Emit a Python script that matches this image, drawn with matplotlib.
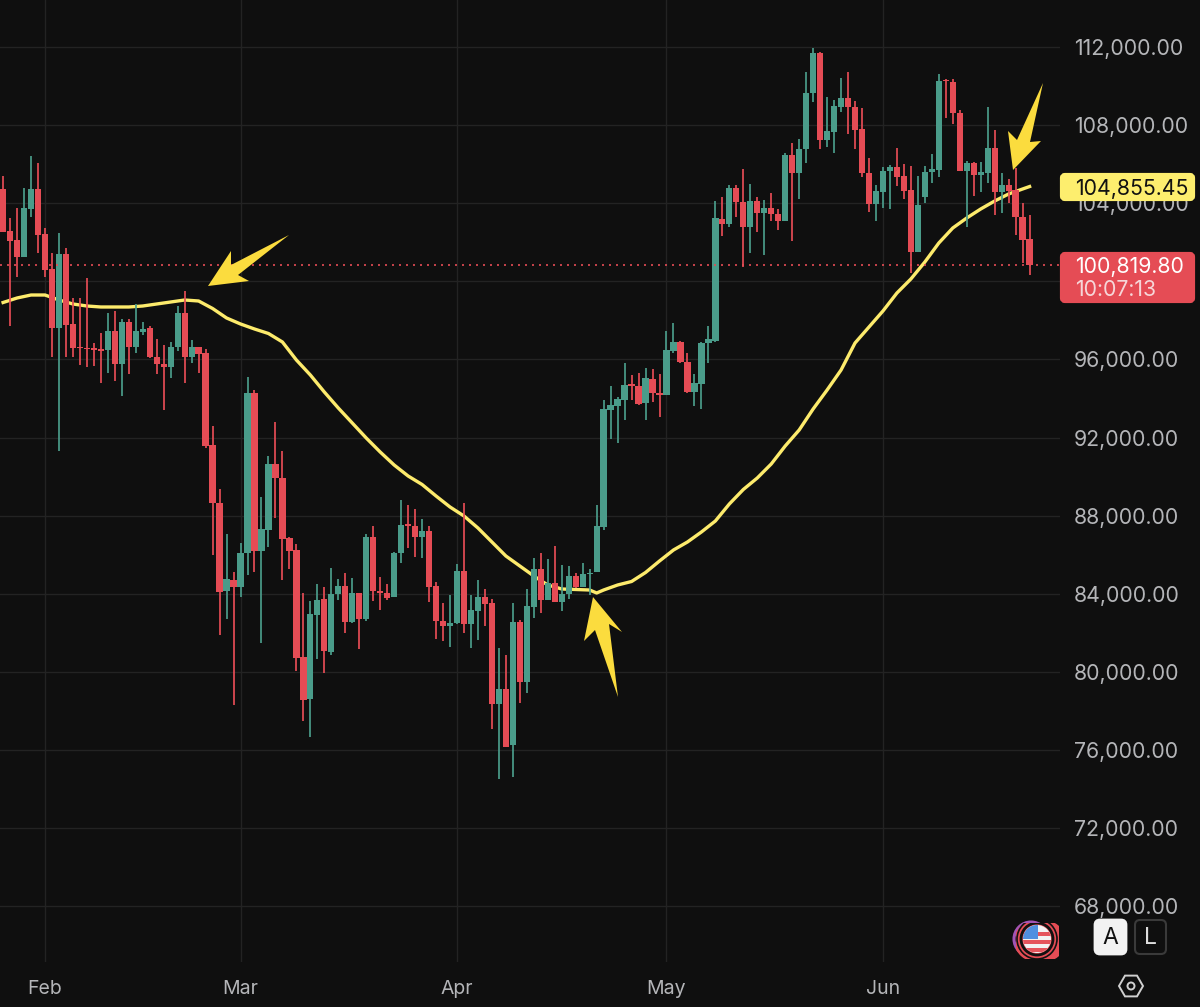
"""Daily BTC candles with a moving average and call-out arrows."""

import matplotlib

matplotlib.use("Agg")
import matplotlib.dates as mdates
import matplotlib.pyplot as plt
import pandas as pd
from matplotlib.patches import Circle, Ellipse, FancyBboxPatch, Polygon, Rectangle, RegularPolygon

opens = [
    104710, 102578, 102117, 101263, 103705, 104712, 102407, 100615, 97593, 101383,
    97798, 96655, 96603, 96569, 96518, 96484, 97457, 95767, 97901, 96621,
    97423, 97593, 96108, 95767, 95596, 96621, 98362, 96143, 96621, 96313,
    91604, 88668, 84161, 84708, 84332, 86073, 94301, 86210, 87268, 90631,
    89948, 86841, 86244, 80748, 78596, 82915, 83717, 81038, 83974, 84400,
    82540, 84025, 82693, 86927, 84161, 84025, 83820, 86073, 87558, 87473,
    86927, 87218, 84402, 82626, 82353, 82490, 85170, 82439, 83139, 83856,
    83514, 78359, 79144, 76259, 82558, 79503, 83344, 85255, 83685, 84538,
    83600, 83992, 84914, 84368, 85016, 85102, 87437, 93412, 93617, 93924,
    94726, 94640, 93753, 95000, 94299, 94180, 96450, 96894, 95870, 94350,
    94743, 96826, 96962, 103210, 102920, 104763, 104063, 102766, 104114, 103483,
    103739, 103466, 103106, 106452, 105530, 106793, 109627, 111675, 107237, 107664,
    108944, 109405, 108944, 107783, 105564, 103960, 104591, 105650, 105871, 105393,
    104677, 101518, 104335, 105581, 105701, 110310, 110224, 108637, 105667, 106076,
    105462, 105564, 106810, 104591, 104933, 104677, 103311, 102150,
]
closes = [
    102540, 102083, 101263, 103739, 104712, 102373, 100581, 97593, 101383, 97764,
    96569, 96569, 96535, 96484, 96450, 97457, 95767, 97901, 96621, 97457,
    97576, 96108, 95767, 95596, 96621, 98362, 96143, 96621, 96279, 91568,
    88634, 84110, 84742, 84366, 86107, 94301, 86210, 87302, 90631, 89914,
    86807, 86210, 80696, 78562, 82950, 83683, 81072, 83991, 84400, 82574,
    84059, 82711, 86927, 84161, 84025, 83769, 86107, 87507, 87490, 86927,
    87200, 84368, 82626, 82370, 82524, 85170, 82456, 83173, 83856, 83463,
    78359, 79144, 76174, 82558, 79503, 83378, 85255, 83685, 84572, 83600,
    83992, 84914, 84333, 85016, 85085, 87474, 93446, 93651, 93958, 94692,
    94640, 93719, 95033, 94265, 94180, 96484, 96894, 95870, 94333, 94777,
    96826, 97030, 103227, 102937, 104763, 104046, 102766, 104097, 103483, 103739,
    103449, 103107, 106452, 105530, 106793, 109661, 111675, 107237, 107698, 108978,
    109405, 108910, 107749, 105530, 103960, 104625, 105667, 105871, 105359, 104642,
    101518, 103908, 105615, 105769, 110258, 110241, 108603, 105667, 106076, 105462,
    105598, 106810, 104591, 104915, 104625, 103277, 102116, 100819.80,
]
highs = [
    105390, 103227, 103739, 104763, 106419, 106043, 102749, 101434, 102493, 101724,
    99164, 99164, 100154, 96860, 97337, 98362, 98481, 98071, 98071, 98840,
    97918, 97713, 97030, 96723, 96911, 98754, 99505, 96996, 96655, 96518,
    92594, 89351, 87046, 85100, 86585, 95120, 94437, 88941, 91058, 92816,
    91314, 86893, 86534, 84059, 83632, 84486, 84332, 85322, 84759, 85083,
    84793, 84059, 87046, 87473, 84844, 84486, 86158, 88804, 88548, 88326,
    87814, 87474, 84624, 83548, 83941, 85511, 88635, 83941, 84709, 84231,
    83719, 81244, 80868, 83548, 82661, 84231, 85853, 86075, 85767, 86450,
    85477, 85426, 85050, 85597, 85255, 88550, 93924, 94640, 94094, 95836,
    95204, 95323, 95580, 95494, 95255, 97457, 97884, 96928, 96313, 95255,
    96894, 97713, 104114, 104336, 104934, 104934, 105750, 104985, 104302, 104166,
    104541, 103688, 106554, 107066, 107271, 110702, 111931, 111761, 109456, 109285,
    110395, 110719, 109234, 108893, 106298, 104933, 105871, 105957, 106810, 105991,
    105906, 105393, 105923, 106503, 110600, 110344, 110344, 108773, 106179, 106127,
    106127, 108944, 107749, 105564, 105223, 105786, 104028, 103396,
]
lows = [
    102540, 97730, 100239, 101263, 103312, 101468, 100239, 96143, 91329, 96143,
    96143, 95716, 95630, 95665, 94777, 95289, 94914, 94146, 95238, 96313,
    97252, 96057, 95238, 93411, 95033, 96450, 94811, 95801, 95289, 91448,
    85988, 81891, 82693, 78306, 83854, 84964, 85134, 81464, 86415, 87866,
    84708, 85254, 80065, 77487, 76685, 80645, 79962, 80867, 83683, 82010,
    82523, 81174, 82625, 83632, 83171, 83683, 83820, 85595, 86329, 85903,
    85817, 83600, 81670, 81585, 81295, 82456, 81978, 81210, 81636, 82353,
    77062, 74518, 76140, 74604, 78427, 78905, 82746, 83002, 83685, 83600,
    83139, 83719, 84282, 84368, 83941, 85102, 87266, 91910, 91704, 92900,
    93924, 93668, 92900, 93838, 93070, 94180, 96348, 95836, 94265, 93617,
    93446, 95836, 96911, 102322, 102800, 103312, 100752, 101469, 102510, 101349,
    103107, 102630, 103106, 102082, 104216, 106076, 109200, 106759, 106861, 106554,
    108688, 107527, 106759, 105325, 103567, 103089, 103738, 103687, 104881, 104198,
    100443, 101518, 103994, 105018, 105359, 108347, 108056, 105667, 102765, 104369,
    104557, 105018, 103396, 103516, 103994, 102372, 100921, 100324,
]

# moving average, sampled every other day (days counted from 1 Feb)
ma_days = list(range(-6, 79, 2)) + [79] + list(range(80, 141, 2)) + [141]
ma_values = [
    98918, 99149, 99302, 99302, 99046, 98842, 98739, 98688, 98688, 98688,
    98739, 98842, 98944, 99046, 98995, 98611, 98125, 97818, 97562, 97331,
    96896, 95974, 95206, 94336, 93517, 92749, 91981, 91264, 90598, 90035,
    89600, 89011, 88448, 87987, 87373, 86656, 85939, 85427, 84915, 84454,
    84250, 84224, 84198, 84045, 84198, 84454, 84634, 85094, 85683, 86246,
    86656, 87168, 87731, 88602, 89344, 89933, 90650, 91571, 92390, 93466,
    94438, 95462, 96845, 97664, 98483, 99405, 100122, 100992, 101965, 102733,
    103245, 103706, 104115, 104474, 104730, 104855.45,
]

price_ticks = list(range(68000, 112001, 4000))
month_ticks = ["2025-02-01", "2025-03-01", "2025-04-01", "2025-05-01", "2025-06-01"]
month_labels = ["Feb", "Mar", "Apr", "May", "Jun"]
countdown = "10:07:13"

BG = "#0f0f0f"
GRID = "#232323"
UP = "#4a9c8a"
DOWN = "#e54c55"
MA_COLOR = "#fdeb6c"
ARROW_COLOR = "#fbdc3e"
AXIS_TEXT = "#b4b5b8"
W, H = 1200, 1007
PLOT_RIGHT, PLOT_BOTTOM = 1060, 962
PX_PER_DAY = 6.983

plt.rcParams["font.family"] = ["Inter", "DejaVu Sans"]

feb_first = pd.Timestamp("2025-02-01")
dates = mdates.date2num(pd.date_range("2025-01-26", periods=len(opens), freq="D"))
ma_x = mdates.date2num(feb_first) + pd.Series(ma_days).to_numpy()
colors = [UP if c >= o else DOWN for o, c in zip(opens, closes)]

fig = plt.figure(figsize=(W / 100, H / 100), dpi=100, facecolor=BG)
ax = fig.add_axes([0, 1 - PLOT_BOTTOM / H, PLOT_RIGHT / W, PLOT_BOTTOM / H], facecolor=BG)

# price axis is linear, 4000 per gridline
ax.set_ylim(65152, 114406)
ax.set_xlim(mdates.date2num(feb_first) - 45 / PX_PER_DAY,
            mdates.date2num(feb_first) + 1015 / PX_PER_DAY)
ax.set_yticks(price_ticks)
# the 100,000 label sits under the last-price badge
ax.set_yticklabels(["" if p == 100000 else f"{p:,.2f}" for p in price_ticks],
                   fontsize=15.3, color=AXIS_TEXT)
ax.yaxis.tick_right()
ax.set_xticks(mdates.date2num(pd.to_datetime(month_ticks)))
ax.set_xticklabels(month_labels, fontsize=14, color=AXIS_TEXT)
ax.tick_params(axis="both", length=0)
ax.tick_params(axis="y", pad=10)
ax.tick_params(axis="x", pad=13)
ax.grid(True, color=GRID, linewidth=1.0)
ax.set_axisbelow(True)
for spine in ax.spines.values():
    spine.set_visible(False)

ax.plot(ma_x, ma_values, color=MA_COLOR, linewidth=2.4, solid_joinstyle="round", zorder=2)

# wicks first, then bodies on top
ax.vlines(dates, lows, highs, colors=colors, linewidth=1.25, zorder=3)
bottoms = [min(o, c) for o, c in zip(opens, closes)]
heights = [abs(o - c) for o, c in zip(opens, closes)]
ax.bar(dates, heights, bottom=bottoms, width=0.9, color=colors, linewidth=0, zorder=4)

last_close = closes[-1]
last_ma = ma_values[-1]
ax.axhline(last_close, color=DOWN, linewidth=1.2, linestyle=(0, (1.2, 3.0)), zorder=5)

# overlay in pixel coordinates for the hand-drawn arrows and the scale badges
over = fig.add_axes([0, 0, 1, 1], facecolor="none", zorder=10)
over.set_xlim(0, W)
over.set_ylim(H, 0)
over.axis("off")

arrows = [
    [(208, 286), (231, 251), (231, 265), (289, 235), (238, 275), (249, 281)],
    [(593, 597), (584, 641), (595, 630), (618, 697), (609, 624), (622, 632)],
    [(1013, 170), (1008, 131), (1017, 140), (1043, 83), (1030, 142), (1041, 141)],
]
for pts in arrows:
    over.add_patch(Polygon(pts, closed=True, facecolor=ARROW_COLOR, edgecolor="none"))

over.add_patch(FancyBboxPatch((1062, 175), 131, 24, boxstyle="round,pad=0,rounding_size=3",
                              facecolor="#fdee6e", edgecolor="#fdee6e", linewidth=3))
over.text(1075, 187, f"{last_ma:,.2f}", color="#111111", fontsize=15.3, va="center_baseline")
over.add_patch(FancyBboxPatch((1062, 254), 131, 47, boxstyle="round,pad=0,rounding_size=3",
                              facecolor=DOWN, edgecolor=DOWN, linewidth=3))
over.text(1075, 265, f"{last_close:,.2f}", color="#ffffff", fontsize=15.3, va="center_baseline")
over.text(1075, 288, countdown, color="#f6d6d8", fontsize=15.3, va="center_baseline")

# event badge with the flag
over.add_patch(Circle((1031, 939), 17, facecolor="none", edgecolor="#a354b5", linewidth=2.2))
red_clip = Rectangle((1016, 923), 42.5, 36, transform=over.transData)
disc = Ellipse((1040, 941), 52, 44, facecolor=DOWN, edgecolor="none")
over.add_patch(disc)
disc.set_clip_path(red_clip)
for rad, lw in [(20, 1.2), (16, 2.0)]:
    ring = Circle((1037, 939), rad, facecolor="none", edgecolor="#111111", linewidth=lw)
    over.add_patch(ring)
    ring.set_clip_path(red_clip)
flag_clip = Circle((1037, 939), 14, transform=over.transData)
stripes = Rectangle((1023, 925), 28, 28, facecolor="#f2f2f2")
over.add_patch(stripes)
stripes.set_clip_path(flag_clip)
for top in (932, 940, 948):
    stripe = Rectangle((1023, top), 28, 4, facecolor="#e5545c")
    over.add_patch(stripe)
    stripe.set_clip_path(flag_clip)
canton = Rectangle((1023, 925), 15, 14, facecolor="#4f8fe0")
over.add_patch(canton)
canton.set_clip_path(flag_clip)

# auto / log buttons and the settings hexagon
over.add_patch(FancyBboxPatch((1095, 920), 31, 34, boxstyle="round,pad=0,rounding_size=5",
                              facecolor="#f2f2f2", edgecolor="#f2f2f2", linewidth=2))
over.text(1110.5, 938, "A", color="#111111", fontsize=16.5, ha="center", va="center")
over.add_patch(FancyBboxPatch((1135, 920), 31, 34, boxstyle="round,pad=0,rounding_size=5",
                              facecolor=BG, edgecolor="#3a3a3a", linewidth=1.5))
over.text(1150.5, 938, "L", color="#dddddd", fontsize=16.5, ha="center", va="center")
over.add_patch(RegularPolygon((1131, 986), 6, radius=12, orientation=0.5236,
                              facecolor="none", edgecolor="#d0d0d0", linewidth=1.4))
over.add_patch(Circle((1131, 986), 3.5, facecolor="none", edgecolor="#d0d0d0", linewidth=1.4))

fig.savefig("out.png", dpi=100, facecolor=BG)
plt.close(fig)
